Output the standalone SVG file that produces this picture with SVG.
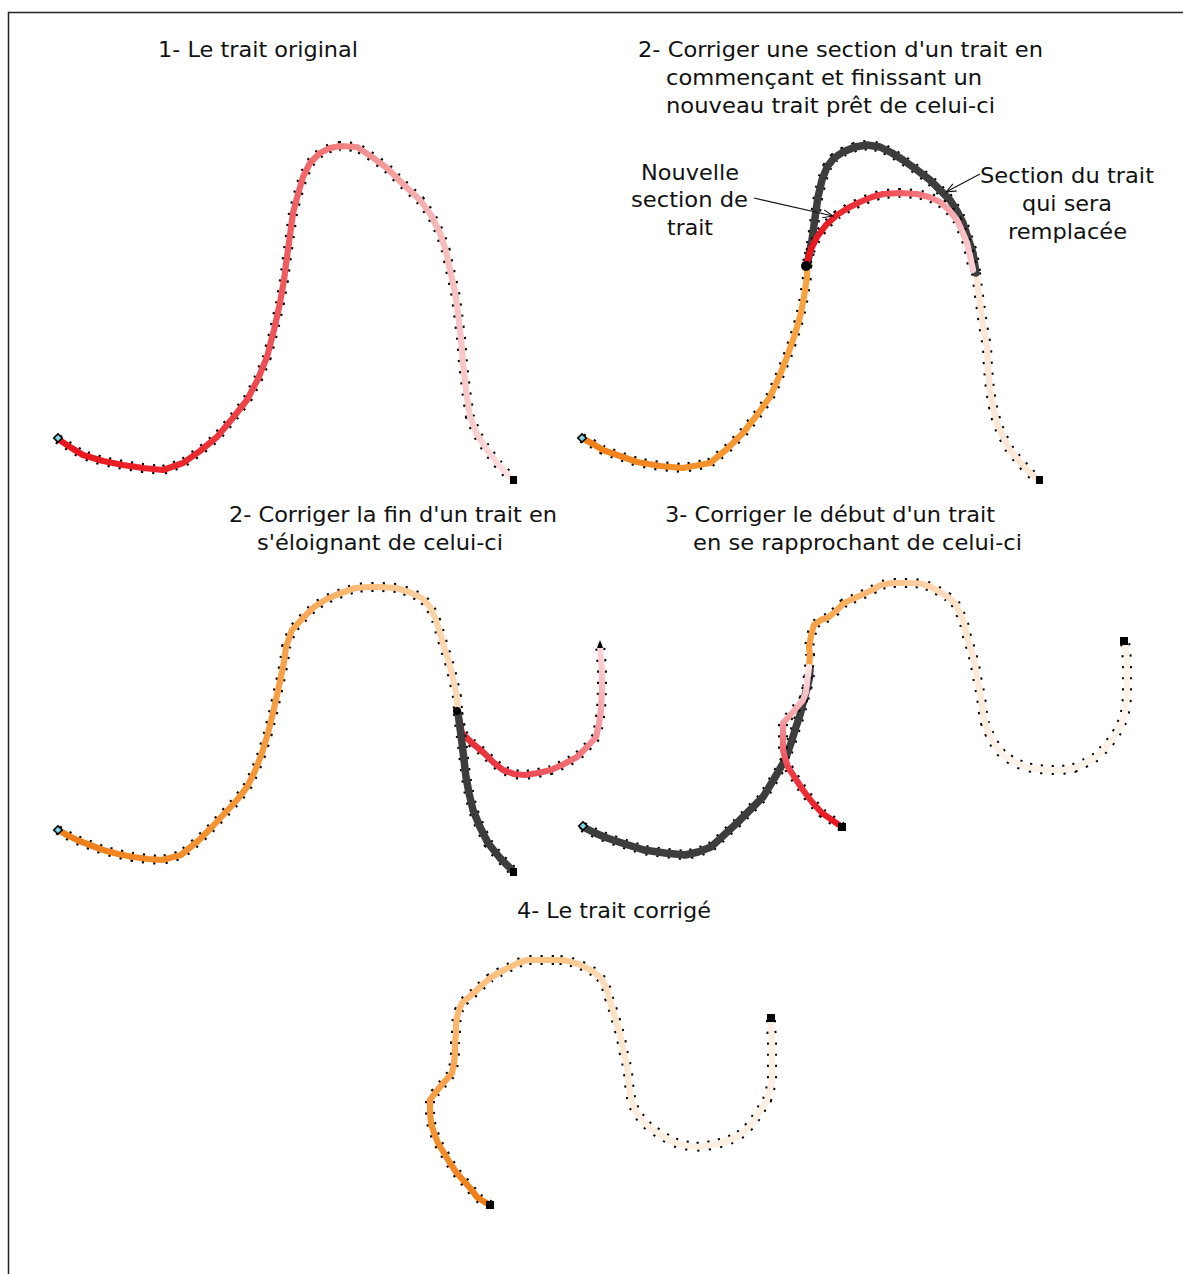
<svg xmlns="http://www.w3.org/2000/svg" xmlns:xlink="http://www.w3.org/1999/xlink" width="1183" height="1274" viewBox="0 0 1183 1274">
<style>
.dots{fill:none;stroke:#000;stroke-width:10;stroke-dasharray:2.2 9;stroke-linejoin:round;stroke-linecap:butt}
.st{fill:none;stroke-width:6.2;stroke-linecap:round;stroke-linejoin:round}
.dk{fill:none;stroke:#3d3d3d;stroke-width:7.5;stroke-linecap:round;stroke-linejoin:round}
.lbl{font-family:"DejaVu Sans","Liberation Sans",sans-serif;font-size:21px;fill:#111}
.conn{fill:none;stroke:#111;stroke-width:1.2}
.sq{fill:#000}
.st0{fill:#7fd8e8;stroke:#000;stroke-width:1.6}
</style>
<defs>
<marker id="ah" markerUnits="userSpaceOnUse" orient="auto" refX="10" refY="4" markerWidth="12" markerHeight="8" overflow="visible">
<path d="M0,0 L10,4 L0,8" fill="none" stroke="#111" stroke-width="1.1"/>
</marker>
<linearGradient id="g1" gradientUnits="userSpaceOnUse" x1="58" y1="0" x2="513" y2="0">
<stop offset="0" stop-color="#e8141c"/><stop offset="0.3" stop-color="#ea2a30"/><stop offset="0.5" stop-color="#f05a5e"/><stop offset="0.65" stop-color="#f28a8a"/><stop offset="0.82" stop-color="#f5b4b4"/><stop offset="1" stop-color="#fde4e4"/>
</linearGradient>
<linearGradient id="g2o" gradientUnits="userSpaceOnUse" x1="582" y1="0" x2="807" y2="0">
<stop offset="0" stop-color="#f07d17"/><stop offset="1" stop-color="#f7a440"/>
</linearGradient>
<linearGradient id="g2r" gradientUnits="userSpaceOnUse" x1="807" y1="0" x2="973" y2="0">
<stop offset="0" stop-color="#e8141c"/><stop offset="0.4" stop-color="#ee3a44"/><stop offset="0.7" stop-color="#f27a80"/><stop offset="1" stop-color="#f9d0d4"/>
</linearGradient>
<linearGradient id="g3o" gradientUnits="userSpaceOnUse" x1="58" y1="0" x2="458" y2="0">
<stop offset="0" stop-color="#ee7e18"/><stop offset="0.5" stop-color="#f5983a"/><stop offset="0.78" stop-color="#fbbf80"/><stop offset="1" stop-color="#fddab8"/>
</linearGradient>
<linearGradient id="g3r" gradientUnits="userSpaceOnUse" x1="458" y1="713" x2="620" y2="640">
<stop offset="0" stop-color="#e8303a"/><stop offset="0.25" stop-color="#ee5058"/><stop offset="0.55" stop-color="#f27880"/><stop offset="0.75" stop-color="#f6a8ae"/><stop offset="0.9" stop-color="#fbe0e2"/>
</linearGradient>
<linearGradient id="g4r" gradientUnits="userSpaceOnUse" x1="842" y1="827" x2="809" y2="667">
<stop offset="0" stop-color="#e8141c"/><stop offset="0.4" stop-color="#ee3c44"/><stop offset="0.6" stop-color="#f07880"/><stop offset="0.8" stop-color="#f5b8bc"/><stop offset="1" stop-color="#fbe4e6"/>
</linearGradient>
<linearGradient id="g4o" gradientUnits="userSpaceOnUse" x1="809" y1="0" x2="1000" y2="0">
<stop offset="0" stop-color="#f7a040"/><stop offset="0.45" stop-color="#fcc48e"/><stop offset="0.8" stop-color="#fde4cc"/><stop offset="1" stop-color="#fdf2e8"/>
</linearGradient>
<linearGradient id="g5a" gradientUnits="userSpaceOnUse" x1="0" y1="1205" x2="0" y2="960">
<stop offset="0" stop-color="#ef7c16"/><stop offset="0.4" stop-color="#f5993a"/><stop offset="0.75" stop-color="#fbb870"/><stop offset="1" stop-color="#fcc487"/>
</linearGradient>
<linearGradient id="g5b" gradientUnits="userSpaceOnUse" x1="560" y1="0" x2="640" y2="0">
<stop offset="0" stop-color="#fcc487"/><stop offset="1" stop-color="#fdefe2"/>
</linearGradient>
<path id="p1" d="M58,439 L70,447 L83,455 L103,461 L123,465 L143,468 L163,470 L183,463 L200,451 L217,437 L232,419 L247,400 L258,379 L267,357 L274,330 L280,303 L284,280 L287,257 L290,235 L293,213 L298,194 L303,177 L310,163 L320,153 L330,148 L340,146 L357,147 L372,157 L387,168 L403,184 L420,200 L431,215 L440,233 L446,251 L450,270 L455,292 L458,313 L461,338 L463,363 L466,390 L470,417 L477,434 L487,450 L498,464 L510,477"/>
<path id="p2o" d="M582,438 L593,444 L603,450 L620,456 L637,462 L660,466 L683,468 L710,463 L727,449 L743,433 L757,415 L770,397 L779,377 L787,357 L794,337 L800,317 L804,297 L807,277 L807,266"/>
<path id="p2c" d="M976,273 L978,288 L980,303 L983,325 L987,347 L988,368 L990,390 L993,407 L997,423 L1003,437 L1010,450 L1020,462 L1030,473 L1039,480"/>
<path id="p2d" d="M807,266 L810,250 L812,240 L815,218 L818,197 L822,180 L827,167 L834,158 L843,152 L855,147 L867,145 L880,147 L892,153 L903,160 L917,170 L930,180 L940,190 L950,200 L957,211 L963,223 L968,238 L973,253 L976,273"/>
<path id="p2r" d="M807,262 L811,249 L817,237 L826,225 L837,215 L848,208 L860,202 L872,197 L883,194 L900,193 L917,194 L929,197 L940,202 L949,210 L957,220 L962,231 L967,243 L970,256 L973,270"/>
<path id="p3o" d="M58,830 L67,835 L77,840 L90,845 L103,850 L118,854 L133,857 L148,859 L162,860 L181,855 L199,840 L212,827 L225,813 L237,800 L247,787 L255,771 L262,753 L268,733 L273,713 L277,695 L281,677 L284,662 L286,647 L292,630 L303,618 L314,607 L325,600 L336,595 L355,588 L368,587 L381,587 L396,588 L409,592 L422,598 L430,607 L436,620 L440,633 L444,647 L448,659 L451,670 L454,683 L457,697 L458,710"/>
<path id="p3r" d="M458,713 L462,733 L472,743 L484,753 L493,762 L503,770 L514,774 L525,775 L538,773 L551,770 L564,764 L577,757 L587,747 L596,737 L599,724 L601,710 L602,690 L602,670 L601,656 L600,645"/>
<path id="p3d" d="M458,713 L460,728 L462,743 L464,760 L466,777 L469,793 L473,810 L480,827 L488,843 L500,858 L513,871"/>
<path id="p4d" d="M583,827 L595,833 L607,838 L625,844 L644,850 L665,853 L685,855 L698,852 L711,847 L724,835 L737,823 L750,810 L763,797 L774,779 L785,760 L791,743 L796,727 L800,715 L803,703 L806,692 L809,680 L810,670"/>
<path id="p4r" d="M842,827 L832,820 L822,813 L812,802 L803,790 L795,778 L788,767 L785,758 L783,750 L783,736 L783,723 L792,713 L803,700 L806,692 L807,683 L809,667"/>
<path id="p4o" d="M809,667 L810,655 L809,647 L811,636 L814,625 L821,620 L829,617 L837,610 L844,603 L855,598 L866,593 L874,589 L881,585 L892,583 L903,583 L913,583 L922,584 L931,587 L940,592 L948,597 L955,603 L959,611 L963,620 L965,627 L966,633 L969,643 L972,653 L975,665 L977,677 L979,687 L981,697 L982,705 L983,713 L985,723 L989,733 L995,745 L1003,755 L1014,762 L1026,767 L1038,769 L1050,770 L1062,770 L1074,768 L1085,763 L1096,757 L1106,747 L1114,737 L1120,727 L1124,717 L1126,707 L1127,697 L1127,683 L1127,670 L1127,660 L1126,650 L1125,642"/>
<path id="p5a" d="M490,1205 L483,1201 L477,1197 L470,1188 L463,1180 L456,1172 L450,1163 L444,1153 L438,1143 L434,1133 L431,1123 L430,1112 L430,1100 L435,1093 L440,1087 L446,1080 L452,1073 L454,1063 L455,1053 L455,1043 L456,1033 L456,1025 L457,1017 L459,1010 L462,1003 L469,997 L477,990 L483,984 L490,978 L500,972 L510,967 L518,963 L527,960 L539,960 L552,960 L560,960"/>
<path id="p5b" d="M560,960 L568,961 L578,964 L587,968 L594,972 L600,977 L604,983 L607,990 L609,998 L612,1007 L615,1017 L618,1027 L621,1038 L623,1050 L626,1062 L628,1073 L629,1083 L630,1093 L632,1102 L635,1110 L642,1120 L650,1128 L661,1135 L673,1142 L684,1145 L695,1147 L706,1146 L717,1144 L727,1141 L737,1137 L746,1130 L753,1122 L760,1111 L767,1100 L770,1090 L772,1080 L772,1067 L772,1053 L772,1045 L772,1037 L771,1028 L771,1020"/>
</defs>
<rect x="0" y="0" width="1183" height="1274" fill="#fff"/>
<path d="M8.5,1274 L8.5,12.5 L1183,12.5" fill="none" stroke="#222" stroke-width="1.5"/>

<g id="panel1">
<text class="lbl" x="158" y="57" textLength="200" lengthAdjust="spacingAndGlyphs">1- Le trait original</text>
<use href="#p1" class="dots"/>
<use href="#p1" class="st" stroke="url(#g1)"/>
<rect class="st0" x="55" y="435" width="6" height="6" transform="rotate(45 58 438)"/>
<rect class="sq" x="510" y="476" width="7" height="8"/>
</g>

<g id="panel2">
<text class="lbl" x="638" y="57" textLength="405" lengthAdjust="spacingAndGlyphs">2- Corriger une section d'un trait en</text>
<text class="lbl" x="666" y="85" textLength="316" lengthAdjust="spacingAndGlyphs">commençant et finissant un</text>
<text class="lbl" x="666" y="113" textLength="329" lengthAdjust="spacingAndGlyphs">nouveau trait prêt de celui-ci</text>
<use href="#p2o" class="dots"/>
<use href="#p2o" class="st" stroke="url(#g2o)"/>
<use href="#p2c" class="dots"/>
<use href="#p2c" class="st" stroke="#fce7d6"/>
<use href="#p2d" class="dots" style="stroke-width:10.5"/>
<use href="#p2d" class="dk"/>
<use href="#p2r" class="dots"/>
<use href="#p2r" class="st" stroke="url(#g2r)"/>
<circle cx="806" cy="266" r="5" fill="#000"/>
<rect class="st0" x="579" y="435" width="6" height="6" transform="rotate(45 582 438)"/>
<rect class="sq" x="1036" y="476" width="7" height="8"/>
</g>

<g id="label-nouvelle">
<text class="lbl" x="641" y="180" textLength="98" lengthAdjust="spacingAndGlyphs">Nouvelle</text>
<text class="lbl" x="631" y="207" textLength="117" lengthAdjust="spacingAndGlyphs">section de</text>
<text class="lbl" x="667" y="235" textLength="46" lengthAdjust="spacingAndGlyphs">trait</text>
</g>
<g id="label-section">
<text class="lbl" x="980" y="183" textLength="174" lengthAdjust="spacingAndGlyphs">Section du trait</text>
<text class="lbl" x="1022" y="211" textLength="90" lengthAdjust="spacingAndGlyphs">qui sera</text>
<text class="lbl" x="1008" y="239" textLength="119" lengthAdjust="spacingAndGlyphs">remplacée</text>
</g>

<g id="panel3">
<text class="lbl" x="229" y="522" textLength="328" lengthAdjust="spacingAndGlyphs">2- Corriger la fin d'un trait en</text>
<text class="lbl" x="257" y="550" textLength="246" lengthAdjust="spacingAndGlyphs">s'éloignant de celui-ci</text>
<use href="#p3o" class="dots"/>
<use href="#p3o" class="st" stroke="url(#g3o)"/>
<use href="#p3r" class="dots"/>
<use href="#p3r" class="st" stroke="url(#g3r)"/>
<use href="#p3d" class="dots" style="stroke-width:10.5"/>
<use href="#p3d" class="dk"/>
<circle cx="457" cy="711" r="4" fill="#000"/>
<rect class="st0" x="55" y="827" width="6" height="6" transform="rotate(45 58 830)"/>
<rect class="sq" x="510" y="868" width="7" height="8"/>
<path d="M597,648 L600,640 L603,648 Z" fill="#000"/>
</g>

<g id="panel4">
<text class="lbl" x="665" y="522" textLength="330" lengthAdjust="spacingAndGlyphs">3- Corriger le début d'un trait</text>
<text class="lbl" x="693" y="550" textLength="329" lengthAdjust="spacingAndGlyphs">en se rapprochant de celui-ci</text>
<use href="#p4o" class="dots"/>
<use href="#p4o" class="st" stroke="url(#g4o)"/>
<use href="#p4d" class="dots" style="stroke-width:10.5"/>
<use href="#p4d" class="dk"/>
<use href="#p4r" class="dots"/>
<use href="#p4r" class="st" stroke="url(#g4r)"/>
<rect class="st0" x="580" y="823" width="6" height="6" transform="rotate(45 583 826)"/>
<rect class="sq" x="838" y="823" width="8" height="8"/>
<rect class="sq" x="1120" y="637" width="8" height="8"/>
</g>

<g id="panel5">
<text class="lbl" x="517" y="918" textLength="194" lengthAdjust="spacingAndGlyphs">4- Le trait corrigé</text>
<use href="#p5a" class="dots"/>
<use href="#p5a" class="st" stroke="url(#g5a)"/>
<use href="#p5b" class="dots"/>
<use href="#p5b" class="st" stroke="url(#g5b)"/>
<rect class="sq" x="486" y="1201" width="8" height="8"/>
<rect class="sq" x="767" y="1014" width="8" height="8"/>
</g>

<g id="connectors">
<path class="conn" d="M754,198 L833,216" marker-end="url(#ah)"/>
<path class="conn" d="M980,174 L946,192" marker-end="url(#ah)"/>
</g>
</svg>
